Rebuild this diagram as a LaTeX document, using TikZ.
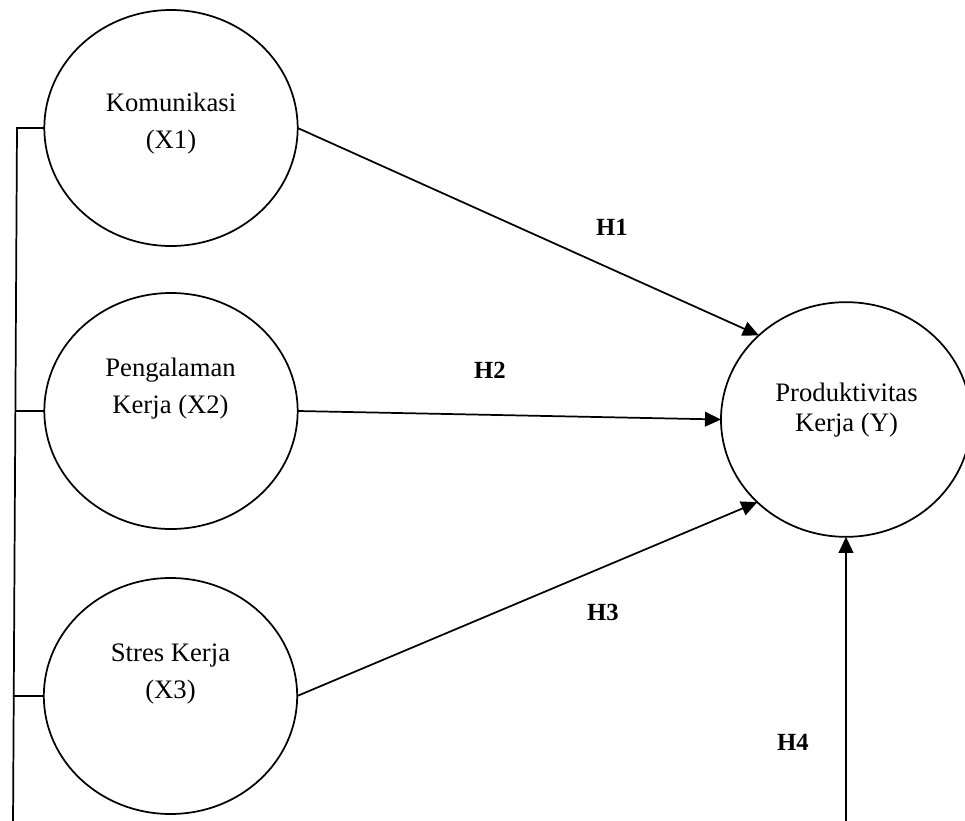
\documentclass[tikz,border=0pt]{standalone}
\usepackage{fontspec}
\setmainfont{Liberation Serif}
\usetikzlibrary{shapes.geometric,arrows.meta}
\tikzset{
  var/.style={draw=black, line width=1.3pt, ellipse, inner sep=0pt, outer sep=0pt,
    minimum width=190pt, minimum height=177pt},
  vtext/.style={align=center, inner sep=0pt, font=\fontsize{20}{27.75}\selectfont},
  hlab/.style={inner sep=0pt, font=\fontsize{18.5}{22}\selectfont\bfseries},
  link/.style={line width=1.3pt, draw=black},
  arr/.style={link, -{Triangle[length=12pt,width=11pt]}}
}
\begin{document}
\begin{tikzpicture}[x=0.75pt, y=-0.75pt]
\useasboundingbox (0,0) rectangle (965,821);
\clip (0,0) rectangle (965,821);
% variables
\node[var] (c1) at (171,128) {};
\node[var] (c2) at (171,411) {};
\node[var] (c3) at (170.5,696) {};
\node[var, minimum width=187.5pt, minimum height=176pt] (y) at (846,419.5) {};
% texts
\node[vtext] (t1) at (171,124) {Komunikasi\\(X1)};
\node[vtext] (t2) at (170.5,389) {Pengalaman\\Kerja (X2)};
\node[vtext] (t3) at (170.5,674) {Stres Kerja\\(X3)};
\node[vtext, font=\fontsize{20}{22.5}\selectfont] (ty) at (846.5,410) {Produktivitas\\Kerja (Y)};
% left bracket
\coordinate (lt) at (17,128);
\coordinate (lb) at (13,826);
\coordinate (l2) at (15.4,411);
\coordinate (l3) at (13.7,696);
\draw[link] (c1.west) -- (lt) -- (lb);
\draw[link] (c2.west) -- (l2);
\draw[link] (c3.west) -- (l3);
% hypotheses
\draw[arr] (c1.east) -- (y.136);
\draw[arr] (c2.east) -- (y.west);
\draw[arr] (c3.east) -- (y.223.5);
\coordinate (h4b) at (846,826);
\draw[arr] (h4b) -- (y.south);
% labels
\node[hlab] (h1) at (612,227) {H1};
\node[hlab] (h2) at (490,370) {H2};
\node[hlab] (h3) at (603,612) {H3};
\node[hlab] (h4) at (793,742) {H4};
\end{tikzpicture}
\end{document}
